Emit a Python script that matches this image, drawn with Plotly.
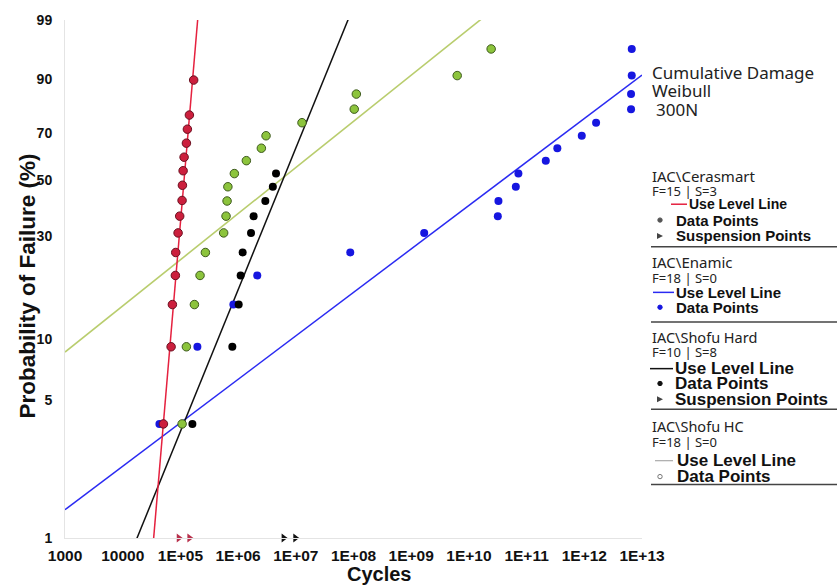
import numpy as np
import plotly.graph_objects as go

# ---------------- data ----------------
prob_ticks = [1, 5, 10, 30, 50, 70, 90, 99]
cycle_ticks = [1e3, 1e4, 1e5, 1e6, 1e7, 1e8, 1e9, 1e10, 1e11, 1e12, 1e13]
cycle_tick_labels = ["1000", "10000", "1E+05", "1E+06", "1E+07", "1E+08",
                     "1E+09", "1E+10", "1E+11", "1E+12", "1E+13"]

# IAC\Cerasmart  (F=15 | S=3)
cerasmart_cycles = [50800, 69000, 72600, 81800, 83000, 91200, 97300, 106900,
                    108400, 111400, 115900, 127100, 132100, 143200, 169800]
cerasmart_prob = [3.8, 9.2, 14.7, 20.1, 25.5, 31.0, 36.4, 42.0, 47.9, 53.9,
                  59.7, 65.8, 71.8, 77.6, 89.6]
cerasmart_susp_cycles = [93500, 143200]
cerasmart_beta, cerasmart_eta = 3.49, 1.285e5

# IAC\Enamic  (F=18 | S=0)
enamic_cycles = [4.33e4, 1.97e5, 8.28e5, 2.15e6, 8.79e7, 1.68e9, 3.17e10, 3.25e10,
                 6.50e10, 7.21e10, 2.15e11, 3.41e11, 9.04e11, 1.60e12, 6.46e12,
                 6.46e12, 6.64e12, 6.64e12]
enamic_prob = [3.8, 9.2, 14.7, 20.1, 25.5, 31.0, 36.4, 41.8, 47.3, 52.7, 58.2,
               63.6, 69.0, 74.5, 79.9, 85.3, 90.8, 96.2]
enamic_beta, enamic_eta = 0.2233, 1.98e11

# IAC\Shofu Hard  (F=10 | S=8)
shofu_hard_cycles = [1.614e5, 7.943e5, 1.023e6, 1.107e6, 1.199e6, 1.675e6,
                     1.858e6, 2.965e6, 4.000e6, 4.539e6]
shofu_hard_prob = [3.8, 9.2, 14.7, 20.1, 25.5, 31.0, 36.4, 41.8, 47.3, 52.7]
shofu_hard_susp_cycles = [6.15e6, 9.80e6]
shofu_hard_beta, shofu_hard_eta = 0.728, 9.84e6

# IAC\Shofu HC  (F=18 | S=0)
shofu_hc_cycles = [1.07e5, 1.27e5, 1.75e5, 2.19e5, 2.71e5, 5.62e5, 6.18e5, 6.44e5,
                   6.65e5, 8.61e5, 1.39e6, 2.53e6, 3.05e6, 1.28e7, 1.03e8, 1.12e8,
                   6.27e9, 2.43e10]
shofu_hc_prob = [3.8, 9.2, 14.7, 20.1, 25.5, 31.0, 36.4, 41.8, 47.3, 52.7, 58.2,
                 63.6, 69.0, 74.5, 79.9, 85.3, 90.8, 96.2]
shofu_hc_beta, shofu_hc_eta = 0.2371, 2.50e7

susp_prob_level = 1  # suspensions are drawn on the bottom edge


def wb(p):
    """Weibull probability-paper transform of a percentage."""
    p = np.asarray(p, dtype=float) / 100.0
    return np.log(-np.log(1.0 - p))


def fit_line(beta, eta):
    x = np.array([cycle_ticks[0], cycle_ticks[-1]])
    return x, beta * (np.log(x) - np.log(eta))


RED, RED_EDGE = "#cc1f3d", "#6a1020"
BLUE = "#1616e0"
BLACK = "#000000"
GREEN, GREEN_EDGE, GREEN_LINE = "#8cc43c", "#3e5a1e", "#b9cd6e"

fig = go.Figure()

# fit lines
for (b, e, col, w) in [(shofu_hc_beta, shofu_hc_eta, GREEN_LINE, 1.6),
                       (enamic_beta, enamic_eta, "#2a2af2", 1.5),
                       (shofu_hard_beta, shofu_hard_eta, "#111111", 1.5),
                       (cerasmart_beta, cerasmart_eta, "#e5213f", 1.5)]:
    lx, ly = fit_line(b, e)
    fig.add_trace(go.Scatter(x=lx, y=ly, mode="lines",
                             line=dict(color=col, width=w), hoverinfo="skip"))

# data points
fig.add_trace(go.Scatter(x=enamic_cycles, y=wb(enamic_prob), mode="markers",
                         marker=dict(size=8, color=BLUE, line=dict(width=0))))
fig.add_trace(go.Scatter(x=shofu_hc_cycles, y=wb(shofu_hc_prob), mode="markers",
                         marker=dict(size=8.5, color=GREEN,
                                     line=dict(width=1, color=GREEN_EDGE))))
fig.add_trace(go.Scatter(x=shofu_hard_cycles, y=wb(shofu_hard_prob), mode="markers",
                         marker=dict(size=8, color=BLACK, line=dict(width=0))))
fig.add_trace(go.Scatter(x=cerasmart_cycles, y=wb(cerasmart_prob), mode="markers",
                         marker=dict(size=8.5, color=RED,
                                     line=dict(width=1, color=RED_EDGE))))

# suspension points
fig.add_trace(go.Scatter(x=cerasmart_susp_cycles,
                         y=wb([susp_prob_level] * len(cerasmart_susp_cycles)),
                         mode="markers", cliponaxis=False,
                         marker=dict(symbol="triangle-right", size=8, color="#b8304c")))
fig.add_trace(go.Scatter(x=shofu_hard_susp_cycles,
                         y=wb([susp_prob_level] * len(shofu_hard_susp_cycles)),
                         mode="markers", cliponaxis=False,
                         marker=dict(symbol="triangle-right", size=8, color="#111111")))

# ---------------- layout ----------------
W, H = 837, 585
L, R, T, B = 65, 642, 15, 538


def px(x):
    return (x - L) / (R - L)


def py(y):
    return (B - y) / (B - T)


ann = []
shapes = []


def text(x, y, s, size, family="Noto Sans", bold=False, color="#222222"):
    ann.append(dict(x=px(x), y=py(y), xref="paper", yref="paper", text=s,
                    showarrow=False, xanchor="left", yanchor="middle",
                    borderpad=0,
                    font=dict(family=family, size=size, color=color,
                              weight="bold" if bold else "normal")))


def seg(x0, x1, y, color, width=1.5):
    shapes.append(dict(type="line", xref="paper", yref="paper",
                       x0=px(x0), x1=px(x1), y0=py(y), y1=py(y),
                       line=dict(color=color, width=width)))


def dot(x, y, r, color, fill=True):
    shapes.append(dict(type="circle", xref="paper", yref="paper",
                       x0=px(x - r), x1=px(x + r), y0=py(y + r), y1=py(y - r),
                       line=dict(color=color, width=1),
                       fillcolor=color if fill else "white"))


def tri(x, y, s, color):
    p = (f"M {px(x - s)} {py(y - s)} L {px(x + s)} {py(y)} "
         f"L {px(x - s)} {py(y + s)} Z")
    shapes.append(dict(type="path", xref="paper", yref="paper", path=p,
                       line=dict(color=color, width=0), fillcolor=color))


BF = "Liberation Sans"
# title block
text(651, 68, "Cumulative Damage", 17)
text(651, 86, "Weibull", 17)
text(655, 105, "300N", 17)

# legend block 1
text(651, 173, "IAC\\Cerasmart", 15)
text(651, 188, "F=15 | S=3", 13)
seg(671, 687, 201, "#e5213f")
text(688, 201, "Use Level Line", 14, BF, True, "#111111")
dot(660, 217, 2.2, "#555555")
text(675, 217, "Data Points", 15, BF, True, "#111111")
tri(660, 233, 3, "#444444")
text(675, 233, "Suspension Points", 15, BF, True, "#111111")
seg(651, 837, 244, "#444444", 1.5)

# legend block 2
text(651, 259, "IAC\\Enamic", 15)
text(651, 275, "F=18 | S=0", 13)
seg(653, 674, 290, "#2a2af2")
text(675, 290, "Use Level Line", 15, BF, True, "#111111")
dot(660, 305, 2.2, BLUE)
text(675, 305, "Data Points", 15, BF, True, "#111111")
seg(651, 837, 320, "#444444", 1.5)

# legend block 3
text(651, 335, "IAC\\Shofu Hard", 14.5)
text(651, 350, "F=10 | S=8", 13)
seg(650, 673, 367, "#111111")
text(674, 367, "Use Level Line", 17, BF, True, "#111111")
dot(660, 382, 2.2, "#111111")
text(674, 382, "Data Points", 17, BF, True, "#111111")
tri(660, 398, 3, "#444444")
text(674, 398, "Suspension Points", 17, BF, True, "#111111")
seg(651, 837, 408, "#444444", 1.5)

# legend block 4
text(651, 425, "IAC\\Shofu HC", 14.5)
text(651, 441, "F=18 | S=0", 13)
seg(655, 673, 460, "#999999", 1)
text(676, 460, "Use Level Line", 17, BF, True, "#111111")
dot(660, 476, 2.2, "#777777", fill=False)
text(676, 476, "Data Points", 17, BF, True, "#111111")
seg(651, 837, 484, "#444444", 1.5)

# axis titles
ann.append(dict(x=px(380), y=py(574), xref="paper", yref="paper", text="Cycles",
                showarrow=False, xanchor="center", yanchor="middle",
                font=dict(family=BF, size=20, color="#111111", weight="bold")))
ann.append(dict(x=px(27), y=py(284), xref="paper", yref="paper",
                text="Probability of Failure (%)", textangle=-90,
                showarrow=False, xanchor="center", yanchor="middle",
                font=dict(family=BF, size=22.5, color="#111111", weight="bold")))

fig.update_layout(
    width=W, height=H,
    margin=dict(l=L, r=W - R, t=T, b=H - B),
    paper_bgcolor="white", plot_bgcolor="white",
    showlegend=False,
    annotations=ann, shapes=shapes,
    xaxis=dict(type="log", range=[3, 13], tickvals=cycle_ticks,
               ticktext=cycle_tick_labels, showgrid=False, zeroline=False,
               showline=True, linecolor="#e4e4e4", linewidth=1,
               ticks="outside", ticklen=3, tickcolor="rgba(0,0,0,0)",
               tickfont=dict(family=BF, size=15.5, color="#111111", weight="bold")),
    yaxis=dict(range=[float(wb(1)), float(wb(99))], tickvals=wb(prob_ticks),
               ticktext=[str(v) for v in prob_ticks], showgrid=False,
               zeroline=False, showline=True, linecolor="#e4e4e4", linewidth=1,
               ticks="outside", ticklen=9, tickcolor="rgba(0,0,0,0)",
               tickfont=dict(family=BF, size=14, color="#111111", weight="bold")),
)

fig.write_html("out.html", config={"displayModeBar": False},
               post_script="document.body.style.margin='0';"
                           "document.body.style.overflow='hidden';")
